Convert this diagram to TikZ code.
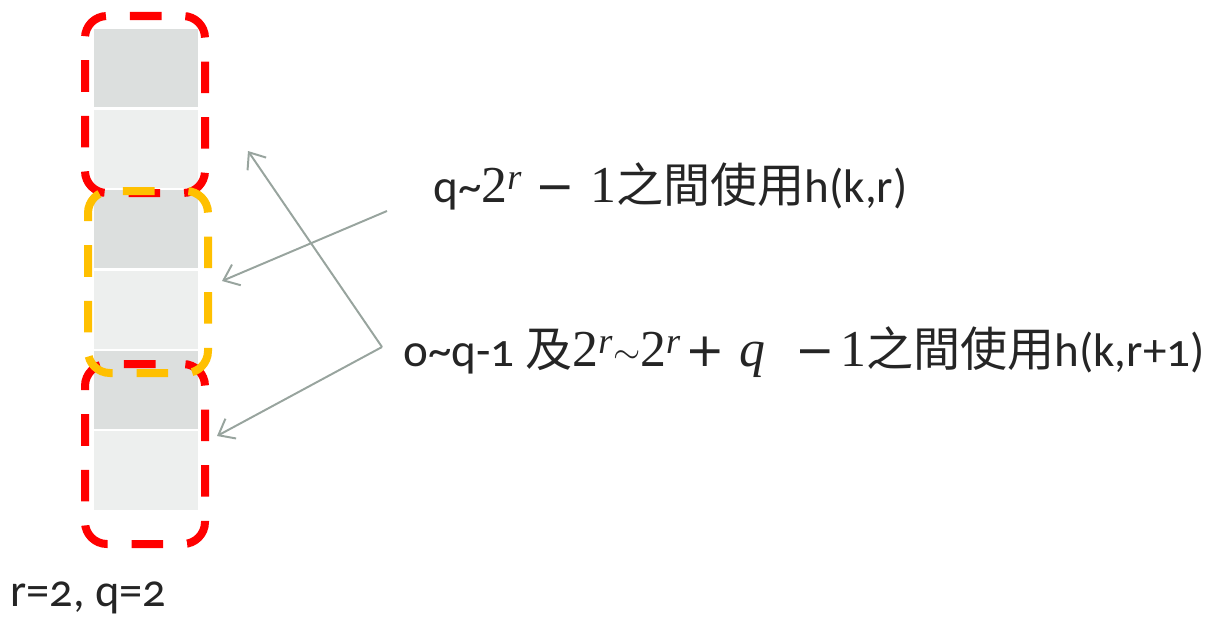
\documentclass[tikz,border=0pt]{standalone}
\usepackage[no-math]{fontspec}
\setmainfont{Carlito}[Numbers=OldStyle]
\newfontfamily\cjk{Noto Sans CJK TC}
\newfontfamily\mate{Liberation Serif}[Scale=1.1]
\newfontfamily\segni{DejaVu Sans}
\usetikzlibrary{arrows.meta, positioning}
\definecolor{rosso}{RGB}{255,0,0}
\definecolor{giallo}{RGB}{255,192,0}
\definecolor{scura}{RGB}{220,223,222}
\definecolor{chiara}{RGB}{237,239,238}
\definecolor{grigiofreccia}{RGB}{152,164,158}
\definecolor{testo}{RGB}{37,37,37}

\begin{document}
\begin{tikzpicture}[
  x=0.025cm, y=-0.025cm,
  font=\fontsize{33.5}{40}\selectfont, text=testo,
  cella/.style={draw=none, inner sep=0pt, minimum width=2.6cm, minimum height=1.95cm},
  cornice/.style={line width=0.2cm, dash pattern=on 0.79cm off 0.6cm, dash phase=0.93cm,
                  rounded corners=0.55cm},
  freccia/.style={draw=grigiofreccia, line width=1.4pt, -{Straight Barb[length=10pt, width=16pt]}}
]
\useasboundingbox (0,0) rectangle (1222,618);

% ---- colonna di celle -------------------------------------------------
\foreach \n/\y/\c in {1/68/scura, 2/149/chiara, 3/229/scura, 4/310/chiara, 5/390/scura, 6/470.5/chiara} {
  \node[cella, fill=\c] (c\n) at (146,\y) {};
}

% ---- cornici tratteggiate (partono a meta del lato superiore) ----------
\draw[cornice, draw=rosso] (145,16) -- (205,16) -- (205,193) -- (85,193) -- (85,16) -- cycle;
\draw[cornice, draw=rosso] (145,364) -- (205,364) -- (205,544) -- (85,544) -- (85,364) -- cycle;
\draw[cornice, draw=giallo] (148,191) -- (208,191) -- (208,373) -- (88,373) -- (88,191) -- cycle;

% ---- testi --------------------------------------------------------------
\node[anchor=base west, inner sep=0pt] (t1) at (433,202)
  {q\textasciitilde{\mate 2\textsuperscript{\itshape r}}\hspace{0.28em}{\segni −}\hspace{0.33em}{\mate 1}{\cjk 之間使用}h(k,r)};
\node[anchor=base west, inner sep=0pt] (t2) at (403,366)
  {o\textasciitilde q-1 {\cjk 及}{\mate 2\textsuperscript{\itshape r}}\raisebox{2pt}{\fontsize{29}{30}\selectfont$\sim$}{\mate 2\textsuperscript{\itshape r}}\hspace{0.1em}{\segni +}\hspace{0.3em}{\mate\itshape q}\hspace{0.65em}{\segni −}\hspace{0.1em}{\mate 1}{\cjk 之間使用}h(k,r+1)};
\node[anchor=base west, inner sep=0pt, font=\fontsize{33}{40}\selectfont] (rq) at (10,606) {r=2, q=2};

% ---- frecce -------------------------------------------------------------
\coordinate (p1) at (387,211);
\coordinate (p2) at (382,347);
\coordinate (a1) at (222,281);
\coordinate (a2) at (248,151);
\coordinate (a3) at (217,436);
\draw[freccia] (p1) -- (a1);
\draw[freccia] (p2) -- (a2);
\draw[freccia] (p2) -- (a3);

\end{tikzpicture}
\end{document}
